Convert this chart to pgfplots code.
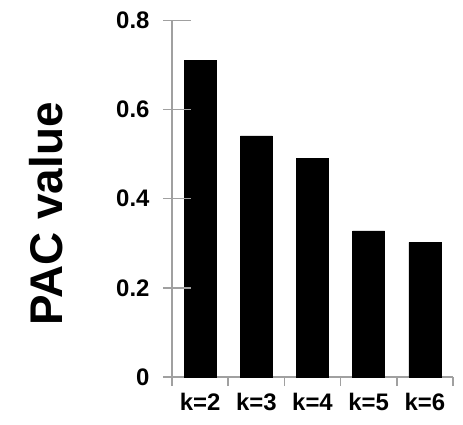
\documentclass[border=0pt]{standalone}
\usepackage{pgfplots}
\pgfplotsset{compat=1.18}
\usepackage{fontspec}
\setmainfont{Liberation Sans}
\definecolor{axgray}{HTML}{A0A0A0}
\begin{document}
\begin{tikzpicture}
\useasboundingbox (-172bp,-48bp) rectangle (291bp,377bp);
\begin{axis}[
  at={(0,0)}, anchor=south west,
  scale only axis, clip=false,
  width=281bp, height=356.5bp,
  xmin=-0.5, xmax=4.5,
  ymin=0, ymax=0.8,
  axis x line=bottom, axis y line=left,
  axis line style={-, draw=axgray, line width=1.5bp},
  xtick={-0.5,0.5,1.5,2.5,3.5,4.5},
  xticklabels={k=2,k=3,k=4,k=5,k=6,{}},
  xticklabel style={xshift=28.1bp, yshift=-4bp},
  ytick={0,0.2,0.4,0.6,0.8},
  ymajorticks=true, ytick pos=left,
  major tick length=9bp,
  tick align=outside,
  xtick style={draw=axgray, line width=1.5bp},
  ytick style={draw=axgray, line width=1.5bp},
  yticklabel style={/pgf/number format/fixed, /pgf/number format/precision=1, xshift=-10bp},
  /pgf/number format/assume math mode=true,
  tick label style={font=\bfseries\fontsize{24}{24}\selectfont},
  ylabel={PAC value},
  every axis y label/.style={at={([xshift=-109bp]axis description cs:0,0.457)}, rotate=90, anchor=base},
  ylabel style={font=\bfseries\fontsize{46}{46}\selectfont},
]
\addplot[ybar, bar width=32bp, fill=black, draw=black] coordinates {(0,0.710) (1,0.541) (2,0.490) (3,0.328) (4,0.302)};
\pgfplotsinvokeforeach{0.2,0.4,0.6,0.8}{
  \draw[axgray, line width=1.5bp] (axis cs:-0.5,#1) -- ++(-9bp,0);
}
\end{axis}
\end{tikzpicture}
\end{document}
